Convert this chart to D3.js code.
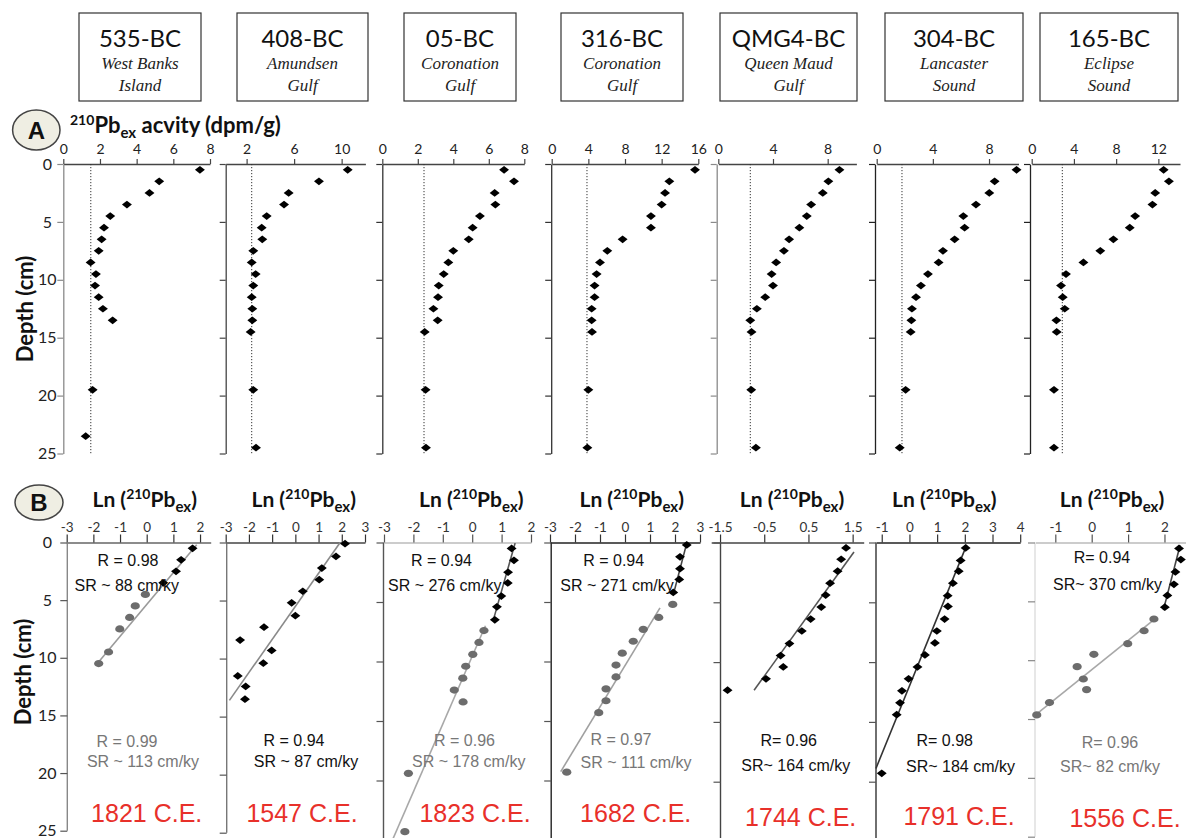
<!DOCTYPE html>
<html>
<head>
<meta charset="utf-8">
<script src="https://cdn.jsdelivr.net/npm/d3@7"></script>
<style>
  body { margin: 0; background: #fff; }
  svg { display: block; }
</style>
</head>
<body>
<svg id="chart" width="1186" height="838"></svg>
<script>
// ---------------- data ----------------
const cores = ["535-BC", "408-BC", "05-BC", "316-BC", "QMG4-BC", "304-BC", "165-BC"];
const sites = [
  ["West Banks", "Island"], ["Amundsen", "Gulf"], ["Coronation", "Gulf"],
  ["Coronation", "Gulf"], ["Queen Maud", "Gulf"], ["Lancaster", "Sound"], ["Eclipse", "Sound"]
];

// Panel A: total 210Pb activity (dpm/g) against depth (cm)
const stdDepths = [0.5, 1.5, 2.5, 3.5, 4.5, 5.5, 6.5, 7.5, 8.5, 9.5, 10.5, 11.5, 12.5, 13.5, 14.5, 19.5, 24.5];
const activityDepths = [
  [0.5, 1.5, 2.5, 3.5, 4.5, 5.5, 6.5, 7.5, 8.5, 9.5, 10.5, 11.5, 12.5, 13.5, 19.5, 23.5],
  stdDepths, stdDepths, stdDepths, stdDepths, stdDepths, stdDepths
];
const activity = [
  [7.45, 5.23, 4.70, 3.47, 2.56, 2.22, 2.09, 1.93, 1.49, 1.78, 1.73, 1.93, 2.16, 2.69, 1.60, 1.22],
  [10.51, 8.09, 5.54, 5.15, 3.69, 3.27, 3.32, 2.56, 2.43, 2.76, 2.56, 2.43, 2.48, 2.48, 2.34, 2.56, 2.79],
  [6.86, 7.42, 6.33, 6.37, 5.50, 5.09, 4.87, 4.00, 3.72, 3.46, 3.18, 3.14, 2.88, 3.12, 2.39, 2.44, 2.46],
  [15.64, 12.84, 12.37, 12.00, 10.83, 10.83, 7.74, 6.07, 5.27, 4.90, 4.68, 4.68, 4.36, 4.36, 4.40, 4.00, 3.89],
  [8.86, 8.05, 7.64, 6.79, 6.47, 5.93, 5.18, 4.80, 4.23, 3.90, 4.00, 3.43, 2.82, 2.34, 2.43, 2.41, 2.75],
  [9.96, 8.40, 8.02, 7.07, 6.17, 6.26, 5.55, 4.72, 4.41, 3.65, 3.15, 2.80, 2.51, 2.47, 2.42, 2.06, 1.64],
  [12.5, 13.0, 11.7, 11.44, 9.80, 9.29, 7.74, 6.50, 4.90, 3.25, 2.78, 2.94, 3.13, 2.34, 2.37, 2.11, 2.11]
];
const supportedPb = [1.5, 2.43, 2.35, 3.85, 2.34, 1.8, 2.9];
const activityDomains = [[0, 8], [0.24, 12], [0, 8], [0, 16], [0, 10.1], [0, 10.1], [0, 14.05]];
const activityTicks = [[0, 2, 4, 6, 8], [2, 6, 10], [0, 2, 4, 6, 8], [0, 4, 8, 12, 16], [0, 4, 8], [0, 4, 8], [0, 4, 8, 12]];
const depthTicks = [0, 5, 10, 15, 20, 25];

// Panel B: ln(210Pb excess) against depth, upper (diamonds) and lower (dots) sections
const lnDepthsUpper = [
  [0.5, 1.5, 2.5, 3.5],
  [0.1, 1.2, 2.2, 3.2, 4.2, 5.2, 6.3, 7.3, 8.4, 9.3, 10.4, 11.5, 12.4, 13.5],
  [0.5, 1.5, 2.5, 3.4, 4.5, 5.4, 6.5],
  [0.2, 1.2, 2.2, 3.1, 4.2],
  [0.45, 1.4, 2.4, 3.4, 4.4, 5.4, 6.4, 7.4, 8.45, 9.45, 10.4, 11.4, 12.35],
  [0.45, 1.5, 2.4, 3.4, 4.45, 5.35, 6.4, 7.4, 8.4, 9.4, 10.4, 11.4, 12.4, 13.4, 14.4, 19.3],
  [0.5, 1.45, 2.5, 3.55, 4.5, 5.5]
];
const lnUpper = [
  [1.72, 1.29, 1.10, 0.62],
  [2.14, 1.75, 1.14, 1.03, 0.32, -0.16, 0.0, -1.35, -2.38, -1.02, -1.38, -2.48, -2.14, -2.17],
  [1.34, 1.42, 1.22, 1.21, 0.99, 0.84, 0.77],
  [2.47, 2.20, 2.20, 2.17, 1.93],
  [1.35, 1.24, 1.16, 0.99, 0.89, 0.79, 0.55, 0.35, 0.07, -0.13, -0.07, -0.46, -1.33],
  [2.03, 1.85, 1.78, 1.57, 1.38, 1.39, 1.27, 0.99, 0.92, 0.56, 0.29, -0.03, -0.27, -0.34, -0.46, -1.0],
  [2.40, 2.45, 2.30, 2.26, 2.08, 2.01]
];
const lnDepthsLower = [
  [4.5, 5.5, 6.5, 7.5, 9.5, 10.5],
  [],
  [7.4, 8.4, 9.4, 10.4, 11.4, 12.4, 13.4, 19.4, 24.3],
  [5.2, 6.3, 7.3, 8.3, 9.3, 10.3, 11.3, 12.3, 13.3, 14.3, 19.3],
  [],
  [],
  [6.5, 7.5, 8.6, 9.5, 10.55, 11.6, 12.5, 13.6, 14.65]
];
const lnLower = [
  [-0.05, -0.43, -0.64, -1.01, -1.43, -1.80],
  [],
  [0.40, 0.23, 0.02, -0.22, -0.32, -0.61, -0.31, -2.17, -2.29],
  [1.91, 1.35, 0.73, 0.33, -0.11, -0.36, -0.36, -0.76, -0.76, -1.05, -2.33],
  [],
  [],
  [1.71, 1.44, 0.99, 0.06, -0.40, -0.23, -0.14, -1.16, -1.51]
];
// regression segments: [ln at start, depth at start, ln at end, depth at end]
const fitSegments = [
  [[1.875, 0.2, -1.875, 10.56]],
  [[1.93, 0.0, -2.84, 13.6]],
  [[1.46, 0.05, 0.72, 6.5], [0.45, 7.0, -2.8, 25.5]],
  [[2.47, 0.05, 1.93, 4.4], [1.4, 5.5, -2.57, 19.25]],
  [[1.53, 0.8, -0.73, 12.35]],
  [[2.07, 0.2, -1.21, 18.9]],
  [[2.43, 0.23, 1.97, 5.75], [1.79, 6.37, -1.56, 14.7]]
];
const lnDomains = [[-3, 2.4], [-3, 3], [-3, 2], [-3, 3], [-1.7, 1.75], [-1.2, 4], [-1.55, 2.6]];
const lnTicks = [
  [-3, -2, -1, 0, 1, 2], [-3, -2, -1, 0, 1, 2, 3], [-3, -2, -1, 0, 1, 2], [-3, -2, -1, 0, 1, 2, 3],
  [-1.5, -0.5, 0.5, 1.5], [-1, 0, 1, 2, 3, 4], [-1, 0, 1, 2]
];
const statsUpper = [
  ["R = 0.98", "SR ~ 88 cm/ky"], null, ["R = 0.94", "SR ~ 276 cm/ky"], ["R = 0.94", "SR ~ 271 cm/ky"],
  null, null, ["R= 0.94", "SR~ 370 cm/ky"]
];
const statsLower = [
  ["R = 0.99", "SR ~ 113 cm/ky"], ["R = 0.94", "SR ~ 87 cm/ky"], ["R = 0.96", "SR ~ 178 cm/ky"],
  ["R = 0.97", "SR ~ 111 cm/ky"], ["R= 0.96", "SR~ 164 cm/ky"], ["R= 0.98", "SR~ 184 cm/ky"],
  ["R= 0.96", "SR~ 82 cm/ky"]
];
const baseDates = ["1821 C.E.", "1547 C.E.", "1823 C.E.", "1682 C.E.", "1744 C.E.", "1791 C.E.", "1556 C.E."];

// ---------------- layout ----------------
const layout = {
  boxes: [[79, 201], [237, 368], [404, 516], [561, 683], [720, 857], [885, 1023], [1040, 1178]],
  boxTop: 13, boxBottom: 101,
  aRange: [[63.3, 210], [225.7, 365.4], [382.3, 524.3], [551.7, 698.3], [718.3, 856.4], [876.7, 1018.5], [1031.7, 1180]],
  aAxisX: [63.3, 225.7, 382.3, 551.2, 716.7, 875, 1030],
  aTop: 164, aBottom: 453.5,
  aYColor: ["#8a8a8a", "#444", "#333", "#333", "#8a8a8a", "#222", "#222"],
  bRange: [[66.7, 210.7], [225.7, 365], [384, 531], [550, 700], [711.2, 863.7], [876.2, 1020.2], [1035.3, 1186.3]],
  bAxisX: [67.3, 226.7, 383.5, 551.2, 720.5, 876, 1035],
  bTop: 542.5,
  bBottom: [830.7, 832.7, 840, 840, 841.5, 841.5, 836.7],
  bXColor: ["#666", "#444", "#bbb", "#222", "#444", "#222", "#bbb"],
  bYColor: ["#888", "#777", "#555", "#222", "#444", "#333", "#ddd"],
  fitColors: [["#9a9a9a"], ["#8a8a8a"], ["#555", "#a8a8a8"], ["#444", "#a0a0a0"], ["#555"], ["#333"], ["#444", "#a8a8a8"]],
  bTitleX: [144.7, 303.7, 471.3, 631.7, 792, 944.3, 1112],
  upperPos: [[[128, 560.7], [126.7, 585]], null, [[441.5, 560.7], [444.7, 585]], [[613.7, 560], [617, 585]],
             null, null, [[1102, 557.3], [1107.5, 584.3]]],
  lowerPos: [[[127, 741.7], [143, 761.7]], [[294, 740.7], [306, 761.7]], [[464.5, 740], [468.7, 761]],
             [[621, 739.3], [636, 762.7]], [[788.7, 740.7], [795.8, 765]], [[944.7, 740.7], [960.5, 766]],
             [[1110, 742.7], [1110, 766]]],
  lowerColor: ["#777", "#111", "#777", "#777", "#111", "#111", "#777"],
  datePos: [[146.7, 813.3], [302, 813.3], [475, 813.3], [635.7, 813], [800.7, 816.7], [959, 816], [1125, 818.3]]
};

const SANS = "Lato, 'Open Sans', sans-serif";
const ARIAL = "'Liberation Sans', Arial, sans-serif";
const svg = d3.select("#chart");

// wide flat diamond marker
const flatDiamond = {
  draw(ctx, size) {
    const w = Math.sqrt(size) * 0.62, h = w * 0.78;
    ctx.moveTo(-w, 0); ctx.lineTo(0, -h); ctx.lineTo(w, 0); ctx.lineTo(0, h); ctx.closePath();
  }
};
const diamondPath = d3.symbol().type(flatDiamond).size(64)();

// ---------------- header boxes ----------------
cores.forEach((c, i) => {
  const [x0, x1] = layout.boxes[i];
  const cx = (x0 + x1) / 2;
  const g = svg.append("g");
  g.append("rect").attr("x", x0).attr("y", layout.boxTop)
    .attr("width", x1 - x0).attr("height", layout.boxBottom - layout.boxTop)
    .attr("fill", "#fff").attr("stroke", "#333").attr("stroke-width", 1.2);
  g.append("text").attr("x", cx).attr("y", 46.7).attr("text-anchor", "middle")
    .attr("font-family", SANS).attr("font-size", 24).attr("fill", "#111").text(c);
  sites[i].forEach((s, k) => {
    g.append("text").attr("x", cx).attr("y", 69.3 + k * 21.4).attr("text-anchor", "middle")
      .attr("font-family", "'Liberation Serif', 'DejaVu Serif', serif").attr("font-style", "italic")
      .attr("font-size", 17).attr("fill", "#222").text(s);
  });
});

// ---------------- panel badges and labels ----------------
function badge(cx, cy, rx, ry, letter) {
  svg.append("ellipse").attr("cx", cx).attr("cy", cy).attr("rx", rx).attr("ry", ry)
    .attr("fill", "#efeee3").attr("stroke", "#444").attr("stroke-width", 1.5);
  svg.append("text").attr("x", cx).attr("y", cy + 8.5).attr("text-anchor", "middle")
    .attr("font-family", ARIAL).attr("font-weight", "bold").attr("font-size", 24).attr("fill", "#111").text(letter);
}
badge(36.3, 130, 23.7, 20, "A");
badge(39, 502.5, 24, 17.5, "B");

// Panel A title with superscript / subscript
const titleA = svg.append("text").attr("x", 70).attr("y", 133)
  .attr("font-family", SANS).attr("font-weight", "bold").attr("fill", "#111");
titleA.append("tspan").attr("font-size", 14).attr("dy", -8).text("210");
titleA.append("tspan").attr("font-size", 22).attr("dy", 8).text("Pb");
titleA.append("tspan").attr("font-size", 15).attr("dy", 5).text("ex");
titleA.append("tspan").attr("font-size", 22).attr("dy", -5).text(" acvity (dpm/g)");

function depthLabel(x, y) {
  svg.append("text").attr("transform", `translate(${x},${y}) rotate(-90)`)
    .attr("text-anchor", "middle").attr("dominant-baseline", "central")
    .attr("font-family", SANS).attr("font-weight", "bold").attr("font-size", 22).attr("fill", "#111")
    .text("Depth (cm)");
}
depthLabel(24, 309);
depthLabel(22, 672);

// ---------------- Panel A: activity profiles ----------------
const yA = d3.scaleLinear().domain([0, 25]).range([layout.aTop, layout.aBottom]);

cores.forEach((c, i) => {
  const x = d3.scaleLinear().domain(activityDomains[i]).range(layout.aRange[i]);
  const g = svg.append("g");

  const xAxis = g.append("g").attr("transform", `translate(0,${layout.aTop})`)
    .call(d3.axisTop(x).tickValues(activityTicks[i]).tickSize(5).tickSizeOuter(0).tickPadding(5));
  xAxis.select(".domain").attr("stroke", "#444").attr("stroke-width", 1.3);
  xAxis.selectAll(".tick line").attr("stroke", "#444").attr("stroke-width", 1.2);
  xAxis.selectAll("text").attr("font-family", SANS).attr("font-size", 14).attr("fill", "#222");

  const yAxis = g.append("g").attr("transform", `translate(${layout.aAxisX[i]},0)`)
    .call(d3.axisLeft(yA).tickValues(depthTicks).tickSize(6).tickSizeOuter(0)
      .tickFormat(i === 0 ? d3.format("d") : () => ""));
  yAxis.select(".domain").attr("stroke", layout.aYColor[i]).attr("stroke-width", 1.3);
  yAxis.selectAll(".tick line").attr("stroke", layout.aYColor[i]).attr("stroke-width", 1.2);
  yAxis.selectAll("text").attr("x", -16).attr("text-anchor", "middle")
    .attr("font-family", SANS).attr("font-size", 16).attr("fill", "#222");

  // supported 210Pb level
  g.append("line").attr("x1", x(supportedPb[i])).attr("x2", x(supportedPb[i]))
    .attr("y1", layout.aTop).attr("y2", layout.aBottom)
    .attr("stroke", "#333").attr("stroke-width", 1).attr("stroke-dasharray", "1.2,1.8");

  g.selectAll("path.pt").data(activity[i].map((v, k) => [v, activityDepths[i][k]]))
    .join("path").attr("class", "pt").attr("d", diamondPath)
    .attr("transform", d => `translate(${x(d[0])},${yA(d[1])})`)
    .attr("fill", "#000");
});

// ---------------- Panel B: ln(210Pbex) regressions ----------------
cores.forEach((c, i) => {
  const x = d3.scaleLinear().domain(lnDomains[i]).range(layout.bRange[i]);
  const y = d3.scaleLinear().domain([0, 25]).range([layout.bTop, layout.bBottom[i]]);
  const g = svg.append("g");

  // title Ln (210Pb ex)
  const t = g.append("text").attr("x", layout.bTitleX[i]).attr("y", 506.7).attr("text-anchor", "middle")
    .attr("font-family", SANS).attr("font-weight", "bold").attr("fill", "#111");
  t.append("tspan").attr("font-size", 21).text("Ln (");
  t.append("tspan").attr("font-size", 14).attr("dy", -8).text("210");
  t.append("tspan").attr("font-size", 21).attr("dy", 8).text("Pb");
  t.append("tspan").attr("font-size", 15).attr("dy", 5).text("ex");
  t.append("tspan").attr("font-size", 21).attr("dy", -5).text(")");

  const xAxis = g.append("g").attr("transform", `translate(0,${layout.bTop})`)
    .call(d3.axisTop(x).tickValues(lnTicks[i]).tickSize(8).tickSizeOuter(0).tickPadding(3)
      .tickFormat(v => String(v)));
  xAxis.select(".domain").attr("stroke", layout.bXColor[i]).attr("stroke-width", 1.3);
  xAxis.selectAll(".tick line").attr("stroke", i === 6 || i === 2 ? "#555" : "#333").attr("stroke-width", 1.2);
  xAxis.selectAll("text").attr("font-family", SANS).attr("font-size", 13.5).attr("fill", "#333");

  const yAxis = g.append("g").attr("transform", `translate(${layout.bAxisX[i]},0)`)
    .call(d3.axisLeft(y).tickValues(depthTicks.filter(v => y(v) <= 838)).tickSize(7).tickSizeOuter(0)
      .tickFormat(i === 0 ? d3.format("d") : () => ""));
  yAxis.select(".domain").attr("stroke", layout.bYColor[i]).attr("stroke-width", 1.4)
    .attr("d", `M0,${layout.bTop}V${Math.min(layout.bBottom[i], 840)}`);
  yAxis.selectAll(".tick line").attr("stroke", i === 6 ? "#888" : layout.bYColor[i] === "#ddd" ? "#888" : "#555")
    .attr("stroke-width", 1.2);
  yAxis.selectAll("text").attr("x", -20).attr("text-anchor", "middle")
    .attr("font-family", SANS).attr("font-size", 16).attr("fill", "#222");

  // regression lines
  g.selectAll("line.fit").data(fitSegments[i]).join("line").attr("class", "fit")
    .attr("x1", d => x(d[0])).attr("y1", d => y(d[1]))
    .attr("x2", d => x(d[2])).attr("y2", d => y(d[3]))
    .attr("stroke", (d, k) => layout.fitColors[i][k]).attr("stroke-width", 1.6);

  // lower-section points (grey dots)
  g.selectAll("ellipse.lo").data(lnLower[i].map((v, k) => [v, lnDepthsLower[i][k]]))
    .join("ellipse").attr("class", "lo")
    .attr("cx", d => x(d[0])).attr("cy", d => y(d[1])).attr("rx", 4.6).attr("ry", 3.6)
    .attr("fill", "#6c6c6c");

  // upper-section points (black diamonds)
  g.selectAll("path.up").data(lnUpper[i].map((v, k) => [v, lnDepthsUpper[i][k]]))
    .join("path").attr("class", "up").attr("d", diamondPath)
    .attr("transform", d => `translate(${x(d[0])},${y(d[1])})`)
    .attr("fill", "#000");

  // statistics
  const fs = 16;
  if (statsUpper[i]) {
    statsUpper[i].forEach((s, k) => {
      const p = layout.upperPos[i][k];
      g.append("text").attr("x", p[0]).attr("y", p[1] + fs * 0.36).attr("text-anchor", "middle")
        .attr("font-family", ARIAL).attr("font-size", fs).attr("fill", "#111").text(s);
    });
  }
  statsLower[i].forEach((s, k) => {
    const p = layout.lowerPos[i][k];
    g.append("text").attr("x", p[0]).attr("y", p[1] + fs * 0.36).attr("text-anchor", "middle")
      .attr("font-family", ARIAL).attr("font-size", fs).attr("fill", layout.lowerColor[i]).text(s);
  });
  const dp = layout.datePos[i];
  g.append("text").attr("x", dp[0]).attr("y", dp[1] + 25 * 0.36).attr("text-anchor", "middle")
    .attr("font-family", ARIAL).attr("font-size", 25).attr("fill", "#e8302a").text(baseDates[i]);
});
</script>
</body>
</html>
